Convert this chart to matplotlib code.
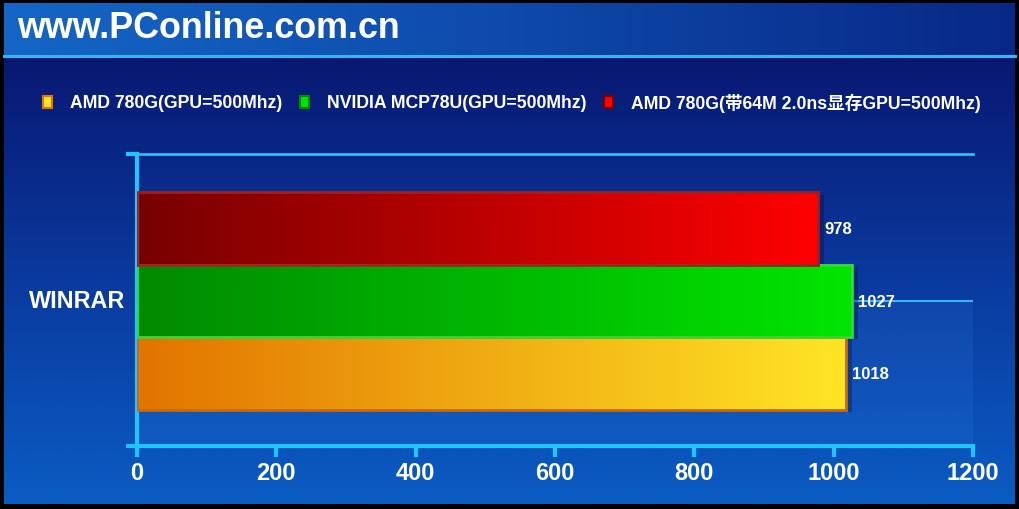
import numpy as np
import matplotlib.pyplot as plt
from matplotlib.colors import LinearSegmentedColormap
from matplotlib.patches import Rectangle

# data
category = "WINRAR"
series = ["AMD 780G(GPU=500Mhz)", "NVIDIA MCP78U(GPU=500Mhz)", "AMD 780G(带64M 2.0ns显存GPU=500Mhz)"]
values = [1018, 1027, 978]
xticks = [0, 200, 400, 600, 800, 1000, 1200]

# colours per series: (dark end, light end, edge)
grads = [("#e27400", "#ffe526", "#c86a10"),
         ("#008a00", "#00e600", "#36d836"),
         ("#780000", "#ff0000", "#a02020")]

FONT = ["Liberation Sans", "Noto Sans CJK SC"]

fig = plt.figure(figsize=(10.2, 5.1), dpi=100)
fig.patch.set_facecolor("black")

# background
bg = fig.add_axes([0, 0, 1, 1])
bg.set_xlim(0, 1020)
bg.set_ylim(510, 0)
bg.axis("off")
body = LinearSegmentedColormap.from_list("body", ["#081872", "#0a3a9e", "#0a5cc4"])
bg.imshow(np.linspace(0, 1, 256).reshape(-1, 1), cmap=body, extent=[4, 1015, 505, 58], aspect="auto")
head = LinearSegmentedColormap.from_list("head", ["#1466c6", "#0e4aaa", "#082888"])
bg.imshow(np.linspace(0, 1, 256).reshape(1, -1), cmap=head, extent=[4, 1015, 56, 4], aspect="auto")
bg.plot([4, 1015], [57, 57], color="#3ab4f0", lw=2.2)
bg.text(17, 28, "www.PConline.com.cn", color="white", fontsize=25.8, fontweight="bold",
        family=FONT, va="center", ha="left")

# legend
leg_x = [43, 300, 604]
for i, (name, x) in enumerate(zip(series, leg_x)):
    c0, c1, ce = grads[i]
    bg.add_patch(Rectangle((x, 97), 9, 12, facecolor=c1, edgecolor=c0, lw=1.5))
    bg.text(x + 27, 103, name, color="white", fontsize=12.7, fontweight="bold",
            family=FONT, va="center", ha="left")

# main axes
ax = fig.add_axes([137 / 1020, 63 / 510, 836 / 1020, 292 / 510])
ax.patch.set_alpha(0)

# lighter floor region and gridlines
ax.axhspan(-1.0, 1.0, color="#4aa0ff", alpha=0.10, lw=0)
ax.axhline(3.03, color="#38b8f4", lw=2, clip_on=False)
ax.axhline(1.0, color="#38b8f4", lw=1.5, zorder=0.5)
ax.plot([-13, 0], [3.03, 3.03], color="#20c4ff", lw=3, clip_on=False)
ax.plot([-13, 0], [-1.0, -1.0], color="#20c4ff", lw=3, clip_on=False)

for i, v in enumerate(values):
    c0, c1, ce = grads[i]
    cm = LinearSegmentedColormap.from_list("g%d" % i, [c0, c1])
    ax.add_patch(Rectangle((8, i - 0.53), v, 1.0, facecolor="#000830", alpha=0.3, lw=0, zorder=1))
    ax.imshow(np.linspace(0, 1, 256).reshape(1, -1), cmap=cm, extent=[0, v, i - 0.5, i + 0.5],
              aspect="auto", zorder=2)
    ax.add_patch(Rectangle((0, i - 0.5), v, 1.0, facecolor="none", edgecolor=ce, lw=2, zorder=3))
    ax.text(v + 8, i, str(v), color="white", fontsize=12, fontweight="bold",
            family=FONT, va="center", ha="left", zorder=4)

ax.set_xlim(0, 1200)
ax.set_ylim(-1.0, 3.03)

for s in ["top", "right"]:
    ax.spines[s].set_visible(False)
for s in ["left", "bottom"]:
    ax.spines[s].set_color("#20c4ff")
    ax.spines[s].set_linewidth(3)

ax.set_xticks(xticks)
ax.set_xticklabels([str(t) for t in xticks], family=FONT, fontsize=17, fontweight="bold", color="white")
ax.tick_params(axis="x", colors="#20c4ff", length=8, width=3, pad=3, labelcolor="white")
ax.set_yticks([])

fig.text(125 / 1020, 1 - 301 / 510, category, color="white", fontsize=16.8, fontweight="bold",
         family=FONT, va="center", ha="right")

fig.savefig("out.png", dpi=100, facecolor="black")
